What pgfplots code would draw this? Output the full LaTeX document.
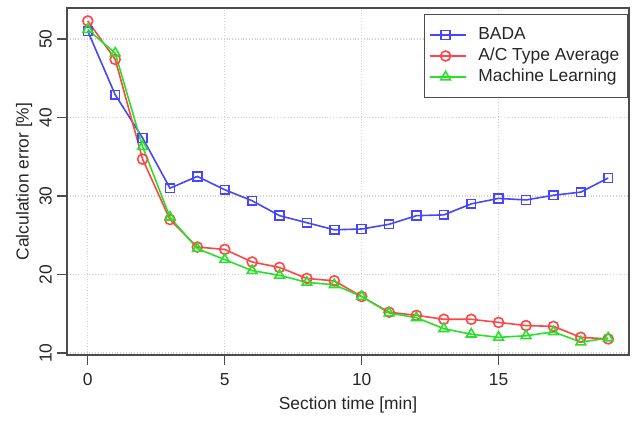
\documentclass[border=0pt]{standalone}
\usepackage{fontspec}
\setmainfont{Liberation Sans}
\usepackage{pgfplots}
\pgfplotsset{compat=1.18}
\definecolor{cblue}{RGB}{70,70,255}
\definecolor{cred}{RGB}{255,70,70}
\definecolor{cgreen}{RGB}{40,225,40}
\begin{document}
\fontsize{8.7}{10.4}\selectfont
\begin{tikzpicture}
\path[use as bounding box] (-33.5pt,-32.5pt) rectangle (285pt,177.5pt);
\begin{axis}[
  scale only axis, width=281pt, height=173.5pt,
  xmin=-0.76, xmax=19.76, ymin=9.75, ymax=53.95,
  xtick={0,5,10,15}, ytick={10,20,30,40,50},
  /pgf/number format/assume math mode=true,
  tick align=outside, xtick pos=left, ytick pos=left,
  major tick length=5pt,
  tick style={black!70, line width=0.6pt},
  axis line style={black!70, line width=0.7pt},
  grid=major, grid style={densely dotted, gray!35, line width=0.6pt},
  xticklabel shift=1pt, yticklabel shift=-0.5pt,
  yticklabel style={rotate=90, anchor=south},
  ticklabel style={text=black!85, font=\fontsize{8.7}{10.4}\selectfont},
  xlabel={Section time [min]}, ylabel={Calculation error [\%]},
  label style={text=black!85, font=\fontsize{8.7}{10.4}\selectfont},
  xlabel style={at={(axis description cs:0.5,-0.144)}, anchor=center},
  ylabel style={at={(axis description cs:-0.0765,0.5)}, anchor=center},
  legend style={at={(axis description cs:0.998,0.983)}, anchor=north east,
    draw=black!70, line width=0.6pt, font=\fontsize{8.7}{10.4}\selectfont,
    text=black!85, inner xsep=4pt, inner ysep=5pt, row sep=0pt,
    nodes={inner xsep=0pt, inner ysep=0pt},
    /tikz/every odd column/.append style={column sep=6pt},
    /tikz/every even column/.append style={nodes={text height=6.4pt, text depth=2pt, inner ysep=1.05pt}}},
  legend cell align=left,
  legend image code/.code={%
    \path (0pt,0pt) -- (16pt,0pt);
    \draw[overlay,mark repeat=2,mark phase=2] plot coordinates {(-2pt,0pt) (6pt,0pt) (14pt,0pt)};},
  every axis plot/.append style={line width=0.8pt},
]
\addplot[cblue, mark=square, mark size=2.2pt, mark options={solid}] coordinates {
(0,51.0) (1,42.9) (2,37.4) (3,31.0) (4,32.5) (5,30.8) (6,29.4) (7,27.5) (8,26.6) (9,25.7)
(10,25.8) (11,26.4) (12,27.5) (13,27.6) (14,29.0) (15,29.7) (16,29.5) (17,30.1) (18,30.5) (19,32.3)};
\addlegendentry{BADA}
\addplot[cred, mark=o, mark size=2.5pt] coordinates {
(0,52.3) (1,47.4) (2,34.7) (3,27.0) (4,23.5) (5,23.2) (6,21.6) (7,20.9) (8,19.5) (9,19.2)
(10,17.2) (11,15.2) (12,14.8) (13,14.3) (14,14.3) (15,13.9) (16,13.5) (17,13.4) (18,12.0) (19,11.8)};
\addlegendentry{A/C Type Average}
\addplot[cgreen, mark=triangle, mark size=2.8pt] coordinates {
(0,51.2) (1,48.2) (2,36.3) (3,27.3) (4,23.3) (5,21.9) (6,20.5) (7,19.9) (8,19.0) (9,18.7)
(10,17.2) (11,15.1) (12,14.5) (13,13.1) (14,12.4) (15,12.0) (16,12.2) (17,12.7) (18,11.4) (19,11.9)};
\addlegendentry{Machine Learning}
\end{axis}
\end{tikzpicture}
\end{document}
